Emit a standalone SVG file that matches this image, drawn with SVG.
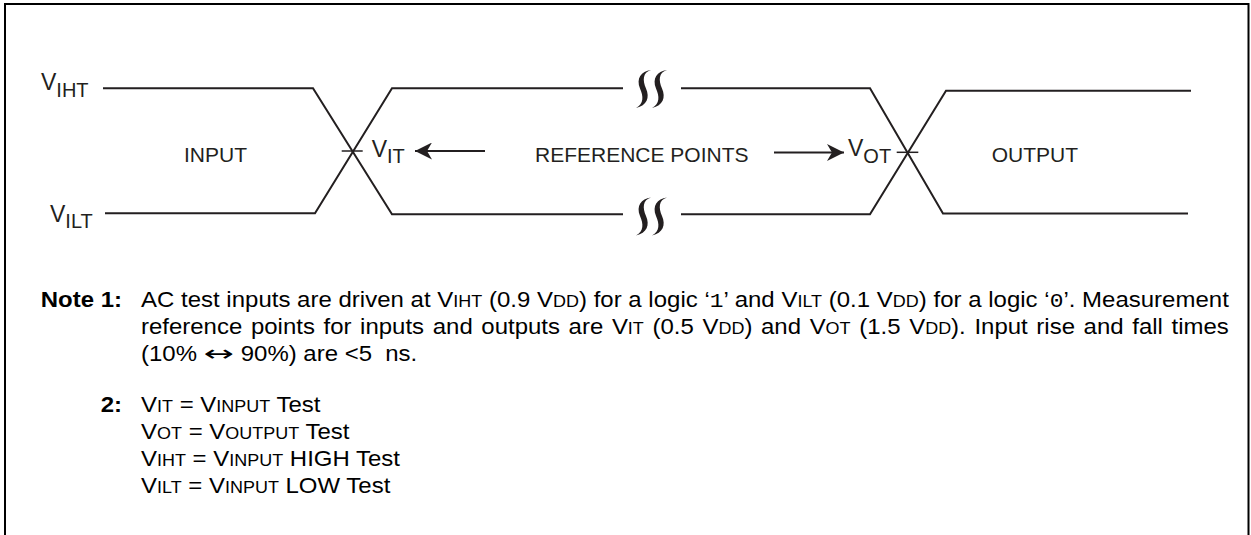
<svg xmlns="http://www.w3.org/2000/svg" xmlns:xlink="http://www.w3.org/1999/xlink" width="1251" height="535" viewBox="0 0 1251 535">
<style>
.frame{fill:none;stroke:#000;stroke-width:2}
.wave{fill:none;stroke:#231f20;stroke-width:2;stroke-linejoin:miter}
.tick{fill:none;stroke:#231f20;stroke-width:1.5}
.arr{fill:none;stroke:#231f20;stroke-width:2;marker-end:url(#ah)}
.lbl{font-family:"Liberation Sans",Arial,sans-serif;font-size:21px;fill:#231f20}
.v{font-family:"Liberation Sans",Arial,sans-serif;font-size:23px;fill:#231f20}
.sub{font-size:20px}
.nt{font-family:"Liberation Sans",Arial,sans-serif;font-size:22px;fill:#000}
.nb{font-family:"Liberation Sans",Arial,sans-serif;font-size:22px;font-weight:bold;fill:#000;text-anchor:end}
.sc{font-size:16.5px}
.mono{font-family:"Liberation Mono","Courier New",monospace;font-size:21px}
.sym{font-family:"DejaVu Sans",sans-serif;font-size:22px;fill:#000}
</style>
<defs>
<marker id="ah" viewBox="0 0 17 17" refX="17" refY="8.5" markerWidth="17" markerHeight="17" markerUnits="userSpaceOnUse" orient="auto">
<path d="M0,0 L17,8.5 L0,17 L5,8.5 Z" fill="#231f20"/>
</marker>
<path id="brk" d="M15,0.5 C5,1.5 0,9 4,19 C7.5,27 8,34 0,38.5 C11,36 14,28 10,19 C6.5,11 6.5,3 15,0.5 Z" fill="#231f20"/>
</defs>
<path class="frame" d="M5,536 V4 H1248.5 V536"/>
<g id="connectors">
<path class="wave" d="M103,88.3 H313 L392,214.3 H623"/>
<path class="wave" d="M105,213.3 H315 L392,88.3 H623"/>
<path class="wave" d="M681,88.3 H870 L943,213.5 H1188"/>
<path class="wave" d="M681,214.3 H870 L946,90.7 H1191"/>
<use xlink:href="#brk" x="636" y="69.5"/>
<use xlink:href="#brk" x="652" y="69.5"/>
<use xlink:href="#brk" x="636" y="197"/>
<use xlink:href="#brk" x="652" y="197"/>
<path class="tick" d="M341.7,151 H362.7"/>
<path class="tick" d="M896.7,152.3 H918.3"/>
<path class="arr" d="M485,151 H415"/>
<path class="arr" d="M774,152.5 H844"/>
</g>
<g id="label-viht"><text class="v" x="41" y="90">V<tspan class="sub" dy="6.7">IHT</tspan></text></g>
<g id="label-vilt"><text class="v" x="50" y="221.5">V<tspan class="sub" dy="6.7">ILT</tspan></text></g>
<g id="label-input"><text class="lbl" x="184" y="161.7">INPUT</text></g>
<g id="label-vit"><text class="v" x="371.7" y="156.5">V<tspan class="sub" dy="6.3">IT</tspan></text></g>
<g id="label-refpoints"><text class="lbl" x="535" y="161.5">REFERENCE POINTS</text></g>
<g id="label-vot"><text class="v" x="848" y="156.3">V<tspan class="sub" dy="6.4">OT</tspan></text></g>
<g id="label-output"><text class="lbl" x="991.7" y="161.7">OUTPUT</text></g>
<g id="notes" transform="matrix(1.09,0,0,1,141,0)">
<text class="nb" x="-17.4" y="307">Note 1:</text>
<text class="nt" x="0" y="307" textLength="998" lengthAdjust="spacing">AC test inputs are driven at V<tspan class="sc">IHT</tspan> (0.9 V<tspan class="sc">DD</tspan>) for a logic ‘<tspan class="mono">1</tspan>’ and V<tspan class="sc">ILT</tspan> (0.1 V<tspan class="sc">DD</tspan>) for a logic ‘<tspan class="mono">0</tspan>’. Measurement</text>
<text class="nt" x="0" y="334" word-spacing="1.8" textLength="998" lengthAdjust="spacing">reference points for inputs and outputs are V<tspan class="sc">IT</tspan> (0.5 V<tspan class="sc">DD</tspan>) and V<tspan class="sc">OT</tspan> (1.5 V<tspan class="sc">DD</tspan>). Input rise and fall times</text>
<text class="nt" x="0" y="361">(10%</text>
<text class="sym" transform="translate(57.4,361) scale(1.52,1)">↔</text>
<text class="nt" x="91.5" y="361">90%) are &lt;5&#160; ns.</text>
<text class="nb" x="-17.4" y="412">2:</text>
<text class="nt" x="0" y="412">V<tspan class="sc">IT</tspan> = V<tspan class="sc">INPUT</tspan> Test</text>
<text class="nt" x="0" y="439">V<tspan class="sc">OT</tspan> = V<tspan class="sc">OUTPUT</tspan> Test</text>
<text class="nt" x="0" y="466">V<tspan class="sc">IHT</tspan> = V<tspan class="sc">INPUT</tspan> HIGH Test</text>
<text class="nt" x="0" y="493">V<tspan class="sc">ILT</tspan> = V<tspan class="sc">INPUT</tspan> LOW Test</text>
</g>
</svg>
